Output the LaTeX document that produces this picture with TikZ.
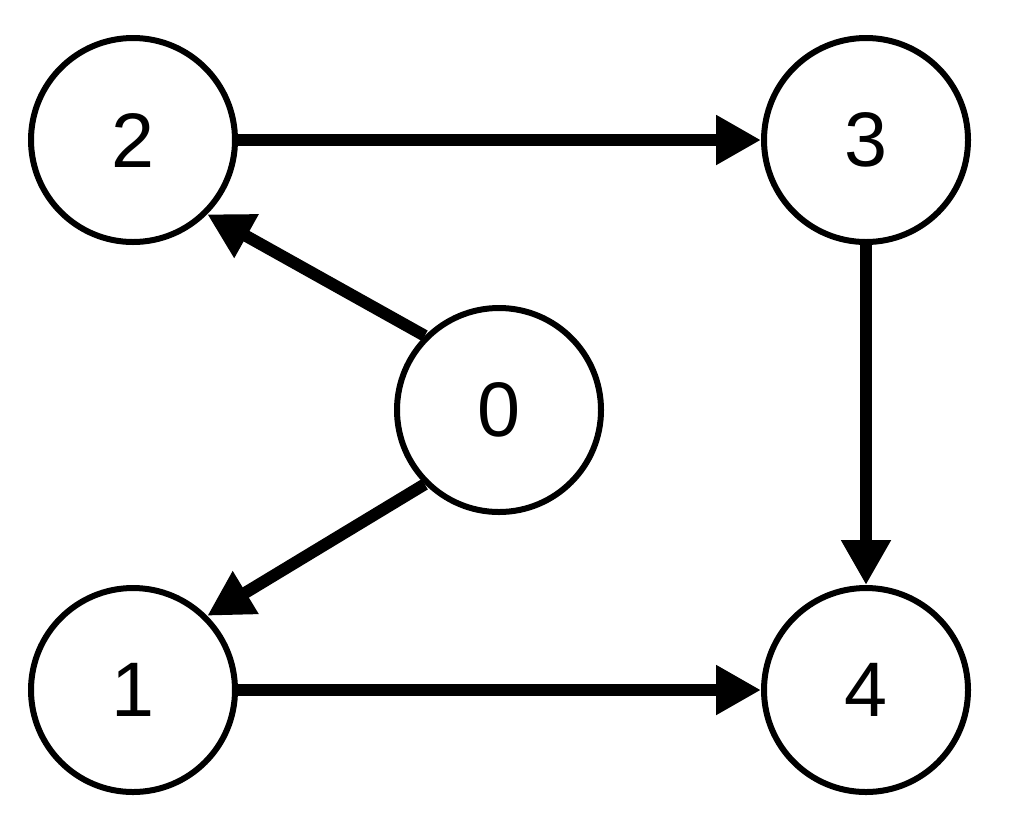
\documentclass[tikz,border=0pt]{standalone}
\usepackage{fontspec}
\setmainfont{Liberation Sans}
\usepackage{tikz}
\usetikzlibrary{arrows.meta}
\usetikzlibrary{positioning}

\begin{document}
\begin{tikzpicture}[
		vertex/.style={draw, circle, line width=0.6mm, minimum size=2.04cm, inner sep=0pt, font=\fontsize{22}{22}\selectfont},
		edge/.style={line width=1.2mm, -{Triangle[length=4.5mm, width=4.7mm]}}
	]
		\useasboundingbox (0,0) rectangle (10.11,8.30);
		% 顶点
		\node[vertex] (v2) at (1.33, 6.90) {2};
		\node[vertex] (v3) at (8.66, 6.90) {3};
		\node[vertex] (v0) at (4.99, 4.20) {0};
		\node[vertex] (v1) at (1.33, 1.40) {1};
		\node[vertex] (v4) at (8.66, 1.40) {4};
		
		% 有向边
		\draw[edge] (v0.135) -- (v2.-45);
		\draw[edge] (v0.225) -- (v1.45);
		\draw[edge] (v2) -- (v3);
		\draw[edge] (v3) -- (v4);
		\draw[edge] (v1) -- (v4);
	\end{tikzpicture}
\end{document}
